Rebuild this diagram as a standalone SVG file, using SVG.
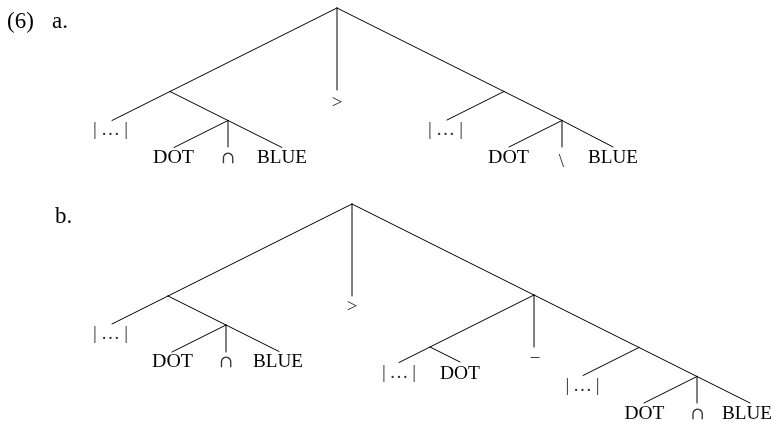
<svg xmlns="http://www.w3.org/2000/svg" width="773" height="422" viewBox="0 0 773 422">
<defs>
  <filter id="gray" x="-20%" y="-20%" width="140%" height="140%"><feOffset dx="0" dy="0"/></filter>
</defs>
<style>
  .e { stroke: #000; stroke-width: 1; fill: none; stroke-linecap: round; }
  text { filter: url(#gray); }
  .lbl { font-family: "Liberation Serif", "DejaVu Serif", serif; font-size: 23px; fill: #000; }
  .w { font-family: "Liberation Serif", "DejaVu Serif", serif; font-size: 19px; fill: #000; text-anchor: middle; }
  .s { font-family: "Liberation Serif", "DejaVu Serif", serif; font-size: 19px; fill: #333; text-anchor: middle; }
  .cap { font-family: "DejaVu Serif", serif; font-size: 17px; fill: #333; text-anchor: middle; }
</style>
<rect width="773" height="422" fill="#fff"/>
<g id="labels">
  <text class="lbl" x="7" y="28">(6)</text>
  <text class="lbl" x="52" y="28">a.</text>
  <text class="lbl" x="55" y="223">b.</text>
</g>
<g id="connectors">
  <!-- tree a -->
  <line class="e" x1="337" y1="8" x2="170" y2="91.5"/>
  <line class="e" x1="170" y1="91.5" x2="112" y2="120.5"/>
  <line class="e" x1="337" y1="8" x2="337" y2="90"/>
  <line class="e" x1="337" y1="8" x2="504" y2="91.5"/>
  <line class="e" x1="504" y1="91.5" x2="562" y2="120.5"/>
  <line class="e" x1="562" y1="120.5" x2="613" y2="147"/>
  <line class="e" x1="170" y1="91.5" x2="228" y2="120.5"/>
  <line class="e" x1="228" y1="120.5" x2="282" y2="147.5"/>
  <line class="e" x1="228" y1="120.5" x2="174" y2="147.5"/>
  <line class="e" x1="228" y1="120.5" x2="228" y2="147"/>
  <line class="e" x1="504" y1="91.5" x2="447" y2="120"/>
  <line class="e" x1="562" y1="120.5" x2="509" y2="147"/>
  <line class="e" x1="562" y1="120.5" x2="562" y2="147"/>
  <!-- tree b -->
  <line class="e" x1="352" y1="204" x2="168" y2="296"/>
  <line class="e" x1="168" y1="296" x2="112" y2="324"/>
  <line class="e" x1="168" y1="296" x2="226" y2="325"/>
  <line class="e" x1="226" y1="325" x2="172" y2="352"/>
  <line class="e" x1="226" y1="325" x2="226" y2="352"/>
  <line class="e" x1="226" y1="325" x2="279" y2="351.5"/>
  <line class="e" x1="352" y1="204" x2="352" y2="296"/>
  <line class="e" x1="352" y1="204" x2="534" y2="295"/>
  <line class="e" x1="534" y1="295" x2="639" y2="347.5"/>
  <line class="e" x1="639" y1="347.5" x2="697" y2="376.5"/>
  <line class="e" x1="697" y1="376.5" x2="750" y2="403"/>
  <line class="e" x1="534" y1="295" x2="430" y2="347"/>
  <line class="e" x1="430" y1="347" x2="399" y2="362.5"/>
  <line class="e" x1="430" y1="347" x2="460" y2="362"/>
  <line class="e" x1="534" y1="295" x2="534" y2="347"/>
  <line class="e" x1="639" y1="347.5" x2="583" y2="375.5"/>
  <line class="e" x1="697" y1="376.5" x2="644" y2="403"/>
  <line class="e" x1="697" y1="376.5" x2="697" y2="403"/>
</g>
<!-- tree a nodes -->
<g id="a-left-rest"><text class="s" x="110.5" y="135" textLength="35" lengthAdjust="spacing">|…|</text></g>
<g id="a-dot1"><text class="w" x="173.5" y="163" textLength="41" lengthAdjust="spacingAndGlyphs">DOT</text></g>
<g id="a-cap"><text class="cap" x="228" y="163">∩</text></g>
<g id="a-blue1"><text class="w" x="282" y="163" textLength="50" lengthAdjust="spacingAndGlyphs">BLUE</text></g>
<g id="a-gt"><text class="s" x="337" y="108" font-size="21">&gt;</text></g>
<g id="a-right-rest"><text class="s" x="445.5" y="135" textLength="35" lengthAdjust="spacing">|…|</text></g>
<g id="a-dot2"><text class="w" x="508.5" y="163" textLength="41" lengthAdjust="spacingAndGlyphs">DOT</text></g>
<g id="a-setminus"><text class="s" x="561.5" y="167" font-size="25">\</text></g>
<g id="a-blue2"><text class="w" x="613" y="163" textLength="50" lengthAdjust="spacingAndGlyphs">BLUE</text></g>
<!-- tree b nodes -->
<g id="b-left-rest"><text class="s" x="110.5" y="339" textLength="35" lengthAdjust="spacing">|…|</text></g>
<g id="b-dot1"><text class="w" x="172.5" y="367" textLength="41" lengthAdjust="spacingAndGlyphs">DOT</text></g>
<g id="b-cap1"><text class="cap" x="226" y="367">∩</text></g>
<g id="b-blue1"><text class="w" x="278" y="367" textLength="50" lengthAdjust="spacingAndGlyphs">BLUE</text></g>
<g id="b-gt"><text class="s" x="352" y="312" font-size="21">&gt;</text></g>
<g id="b-mid-rest"><text class="s" x="399" y="378" textLength="34" lengthAdjust="spacing">|…|</text></g>
<g id="b-dot2"><text class="w" x="460" y="379" textLength="40" lengthAdjust="spacingAndGlyphs">DOT</text></g>
<g id="b-minus"><text class="s" x="535" y="364">−</text></g>
<g id="b-right-rest"><text class="s" x="582.5" y="391" textLength="34" lengthAdjust="spacing">|…|</text></g>
<g id="b-dot3"><text class="w" x="644.5" y="419" textLength="40" lengthAdjust="spacingAndGlyphs">DOT</text></g>
<g id="b-cap2"><text class="cap" x="697.5" y="419">∩</text></g>
<g id="b-blue2"><text class="w" x="747" y="419" textLength="50" lengthAdjust="spacingAndGlyphs">BLUE</text></g>
</svg>
